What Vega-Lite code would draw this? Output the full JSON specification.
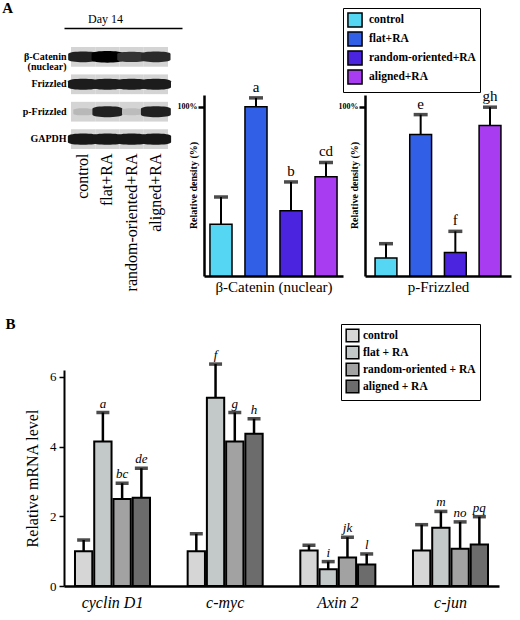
{
  "$schema": "https://vega.github.io/schema/vega-lite/v6.json",
  "background": "white",
  "padding": {"left": 2, "top": 0, "right": 5, "bottom": 5},
  "config": {
    "font": "Liberation Serif",
    "view": {"stroke": null},
    "axis": {"domainColor": "black", "tickColor": "black", "labelColor": "black", "titleColor": "black", "labelFont": "Liberation Serif", "titleFont": "Liberation Serif", "grid": false},
    "legend": {"labelFont": "Liberation Serif", "labelColor": "black"},
    "title": {"font": "Liberation Serif", "color": "black"},
    "text": {"font": "Liberation Serif", "color": "black"}
  },
  "datasets": {
    "blot": [
      {"protein": "β-Catenin (nuclear)", "lane": "control", "intensity": 0.85},
      {"protein": "β-Catenin (nuclear)", "lane": "flat+RA", "intensity": 1.0},
      {"protein": "β-Catenin (nuclear)", "lane": "random-oriented+RA", "intensity": 0.75},
      {"protein": "β-Catenin (nuclear)", "lane": "aligned+RA", "intensity": 0.8},
      {"protein": "Frizzled", "lane": "control", "intensity": 0.88},
      {"protein": "Frizzled", "lane": "flat+RA", "intensity": 0.88},
      {"protein": "Frizzled", "lane": "random-oriented+RA", "intensity": 0.88},
      {"protein": "Frizzled", "lane": "aligned+RA", "intensity": 0.88},
      {"protein": "p-Frizzled", "lane": "control", "intensity": 0.12},
      {"protein": "p-Frizzled", "lane": "flat+RA", "intensity": 0.85},
      {"protein": "p-Frizzled", "lane": "random-oriented+RA", "intensity": 0.1},
      {"protein": "p-Frizzled", "lane": "aligned+RA", "intensity": 0.85},
      {"protein": "GAPDH", "lane": "control", "intensity": 0.9},
      {"protein": "GAPDH", "lane": "flat+RA", "intensity": 0.9},
      {"protein": "GAPDH", "lane": "random-oriented+RA", "intensity": 0.9},
      {"protein": "GAPDH", "lane": "aligned+RA", "intensity": 0.9}
    ],
    "catenin": [
      {"group": "control", "value": 30.6, "err": 46.7, "letter": ""},
      {"group": "flat+RA", "value": 100, "err": 105.3, "letter": "a"},
      {"group": "random-oriented+RA", "value": 38.5, "err": 55.6, "letter": "b"},
      {"group": "aligned+RA", "value": 58.6, "err": 67.1, "letter": "cd"}
    ],
    "pfzd": [
      {"group": "control", "value": 10.7, "err": 19.1, "letter": ""},
      {"group": "flat+RA", "value": 83.7, "err": 95.4, "letter": "e"},
      {"group": "random-oriented+RA", "value": 13.9, "err": 26.4, "letter": "f"},
      {"group": "aligned+RA", "value": 88.9, "err": 99.8, "letter": "gh"}
    ],
    "mrna": [
      {"gene": "cyclin D1", "group": "control", "value": 1.0, "err": 1.32, "letter": ""},
      {"gene": "cyclin D1", "group": "flat + RA", "value": 4.15, "err": 4.98, "letter": "a"},
      {"gene": "cyclin D1", "group": "random-oriented + RA", "value": 2.5, "err": 2.95, "letter": "bc"},
      {"gene": "cyclin D1", "group": "aligned + RA", "value": 2.53, "err": 3.38, "letter": "de"},
      {"gene": "c-myc", "group": "control", "value": 1.0, "err": 1.5, "letter": ""},
      {"gene": "c-myc", "group": "flat + RA", "value": 5.4, "err": 6.37, "letter": "f"},
      {"gene": "c-myc", "group": "random-oriented + RA", "value": 4.15, "err": 4.98, "letter": "g"},
      {"gene": "c-myc", "group": "aligned + RA", "value": 4.37, "err": 4.8, "letter": "h"},
      {"gene": "Axin 2", "group": "control", "value": 1.02, "err": 1.17, "letter": ""},
      {"gene": "Axin 2", "group": "flat + RA", "value": 0.48, "err": 0.7, "letter": "i"},
      {"gene": "Axin 2", "group": "random-oriented + RA", "value": 0.82, "err": 1.4, "letter": "jk"},
      {"gene": "Axin 2", "group": "aligned + RA", "value": 0.62, "err": 0.92, "letter": "l"},
      {"gene": "c-jun", "group": "control", "value": 1.02, "err": 1.76, "letter": ""},
      {"gene": "c-jun", "group": "flat + RA", "value": 1.67, "err": 2.14, "letter": "m"},
      {"gene": "c-jun", "group": "random-oriented + RA", "value": 1.07, "err": 1.84, "letter": "no"},
      {"gene": "c-jun", "group": "aligned + RA", "value": 1.19, "err": 1.99, "letter": "pq"}
    ]
  },
  "concat": [
    {
      "title": {"text": "A", "anchor": "start", "frame": "bounds", "fontSize": 15, "fontWeight": "bold", "dx": -20, "dy": 8, "offset": 0},
      "hconcat": [
        {
          "width": 118,
          "height": 102,
          "data": {"name": "blot"},
          "layer": [
            {
              "mark": {"type": "rect", "fill": "#d4d4d4"},
              "encoding": {
                "x": {"field": "lane", "type": "nominal", "sort": ["control", "flat+RA", "random-oriented+RA", "aligned+RA"],
                      "scale": {"paddingInner": 0, "paddingOuter": 0.433, "align": 0.333},
                      "axis": {"orient": "bottom", "labelAngle": -90, "labelAlign": "right", "labelBaseline": "middle", "labelFontSize": 16, "labelPadding": 4, "domain": false, "ticks": false, "title": null}},
                "y": {"field": "protein", "type": "nominal", "sort": ["β-Catenin (nuclear)", "Frizzled", "p-Frizzled", "GAPDH"],
                      "scale": {"paddingInner": 0.28, "paddingOuter": 0},
                      "axis": {"offset": -5, "domain": false, "ticks": false, "title": null, "labelFontSize": 10, "labelFontWeight": "bold", "labelPadding": 3, "labelLineHeight": 10,
                               "labelExpr": "datum.value == 'β-Catenin (nuclear)' ? ['β-Catenin', '(nuclear)'] : datum.label"}}
              }
            },
            {
              "mark": {"type": "point", "filled": true, "opacity": 1, "shape": "M-1,-0.2 C-1,-0.42 1,-0.42 1,-0.2 L1,0.2 C1,0.42 -1,0.42 -1,0.2 Z"},
              "encoding": {
                "x": {"field": "lane", "type": "nominal", "sort": ["control", "flat+RA", "random-oriented+RA", "aligned+RA"],
                      "axis": {"orient": "top", "domain": true, "domainWidth": 1.5, "labels": false, "ticks": false, "title": "Day 14", "titleFontSize": 12, "titleFontWeight": "normal", "titlePadding": 3, "titleX": 41, "offset": 19}},
                "y": {"field": "protein", "type": "nominal", "sort": ["β-Catenin (nuclear)", "Frizzled", "p-Frizzled", "GAPDH"]},
                "color": {"field": "intensity", "type": "quantitative", "scale": {"domain": [0, 1], "range": ["#d4d4d4", "#000000"]}, "legend": null},
                "size": {"field": "intensity", "type": "quantitative", "scale": {"domain": [0, 1], "range": [300, 1000]}, "legend": null}
              }
            }
          ],
          "resolve": {"axis": {"x": "independent"}}
        },
        {
          "width": 139,
          "height": 229,
          "data": {"name": "catenin"},
          "encoding": {
            "x": {"field": "group", "type": "nominal", "sort": ["control", "flat+RA", "random-oriented+RA", "aligned+RA"],
                  "scale": {"paddingInner": 0.37, "paddingOuter": 0.17},
                  "axis": {"labels": false, "ticks": false, "domainWidth": 2.5, "title": "β-Catenin (nuclear)", "titleFontSize": 15, "titleFontWeight": "normal", "titlePadding": 3}}
          },
          "layer": [
            {
              "mark": {"type": "bar", "stroke": "black", "strokeWidth": 1.5},
              "encoding": {
                "y": {"field": "value", "type": "quantitative", "scale": {"domain": [0, 107], "range": [229, 48], "nice": false},
                      "axis": {"values": [100], "labelExpr": "'100%'", "labelFontSize": 8, "labelFontWeight": "bold", "tickSize": 6, "tickWidth": 2.5, "domainWidth": 2.5, "labelPadding": 1,
                               "title": "Relative density (%)", "titleFontSize": 10, "titleFontWeight": "bold", "titleX": -6, "titleY": 138, "titleBaseline": "bottom", "titleAngle": 270, "titleAlign": "center"}},
                "fill": {"field": "group", "type": "nominal", "scale": {"domain": ["control", "flat+RA", "random-oriented+RA", "aligned+RA"], "range": ["#55d6f2", "#3160e6", "#4b24e0", "#a83cf0"]}, "legend": null}
              }
            },
            {
              "mark": {"type": "rule", "strokeWidth": 2, "color": "black"},
              "encoding": {"y": {"field": "value", "type": "quantitative"}, "y2": {"field": "err"}}
            },
            {
              "mark": {"type": "tick", "thickness": 3.5, "size": 14, "color": "black"},
              "encoding": {"y": {"field": "err", "type": "quantitative"}}
            },
            {
              "mark": {"type": "text", "baseline": "bottom", "dy": -3, "fontSize": 15},
              "encoding": {"y": {"field": "err", "type": "quantitative"}, "text": {"field": "letter"}}
            }
          ]
        },
        {
          "width": 146,
          "height": 229,
          "data": {"name": "pfzd"},
          "encoding": {
            "x": {"field": "group", "type": "nominal", "sort": ["control", "flat+RA", "random-oriented+RA", "aligned+RA"],
                  "scale": {"paddingInner": 0.37, "paddingOuter": 0.29},
                  "axis": {"labels": false, "ticks": false, "domainWidth": 2.5, "title": "p-Frizzled", "titleFontSize": 15, "titleFontWeight": "normal", "titlePadding": 3}}
          },
          "layer": [
            {
              "mark": {"type": "bar", "stroke": "black", "strokeWidth": 1.5},
              "encoding": {
                "y": {"field": "value", "type": "quantitative", "scale": {"domain": [0, 107], "range": [229, 48], "nice": false},
                      "axis": {"values": [100], "labelExpr": "'100%'", "labelFontSize": 8, "labelFontWeight": "bold", "tickSize": 6, "tickWidth": 2.5, "domainWidth": 2.5, "labelPadding": 1,
                               "title": "Relative density (%)", "titleFontSize": 10, "titleFontWeight": "bold", "titleX": -6, "titleY": 138, "titleBaseline": "bottom", "titleAngle": 270, "titleAlign": "center"}},
                "fill": {"field": "group", "type": "nominal", "scale": {"domain": ["control", "flat+RA", "random-oriented+RA", "aligned+RA"], "range": ["#55d6f2", "#3160e6", "#4b24e0", "#a83cf0"]},
                         "legend": {"orient": "none", "legendX": -22, "legendY": -39, "title": null, "strokeColor": "black", "padding": 4, "symbolType": "square", "symbolSize": 200, "symbolStrokeColor": "black", "symbolStrokeWidth": 1.5, "labelFontSize": 11.5, "labelFontWeight": "bold", "rowPadding": -4, "labelOffset": 6}}
              }
            },
            {
              "mark": {"type": "rule", "strokeWidth": 2, "color": "black"},
              "encoding": {"y": {"field": "value", "type": "quantitative"}, "y2": {"field": "err"}}
            },
            {
              "mark": {"type": "tick", "thickness": 3.5, "size": 14, "color": "black"},
              "encoding": {"y": {"field": "err", "type": "quantitative"}}
            },
            {
              "mark": {"type": "text", "baseline": "bottom", "dy": -3, "fontSize": 15},
              "encoding": {"y": {"field": "err", "type": "quantitative"}, "text": {"field": "letter"}}
            }
          ]
        }
      ],
      "bounds": "flush",
      "spacing": 22,
      "resolve": {"scale": {"color": "independent", "size": "independent", "fill": "independent"}}
    },
    {
      "title": {"text": "B", "anchor": "start", "frame": "bounds", "fontSize": 15, "fontWeight": "bold", "dx": -19, "dy": 8, "offset": 0},
      "width": 435,
      "height": 216,
      "data": {"name": "mrna"},
      "encoding": {
        "x": {"field": "gene", "type": "nominal", "sort": ["cyclin D1", "c-myc", "Axin 2", "c-jun"],
              "scale": {"paddingInner": 0.317, "paddingOuter": 0.089},
              "axis": {"labelFontStyle": "italic", "labelFontSize": 16, "labelAngle": 0, "ticks": false, "domainWidth": 2.5, "title": null, "labelPadding": 8}},
        "xOffset": {"field": "group", "type": "nominal", "sort": ["control", "flat + RA", "random-oriented + RA", "aligned + RA"],
                    "scale": {"paddingInner": 0.1, "paddingOuter": 0.05}}
      },
      "layer": [
        {
          "mark": {"type": "bar", "stroke": "black", "strokeWidth": 2},
          "encoding": {
            "y": {"field": "value", "type": "quantitative", "scale": {"domain": [0, 6.2], "nice": false},
                  "axis": {"values": [0, 1, 2, 3, 4, 5, 6], "labelFontSize": 13, "tickSize": 5, "tickWidth": 1.5, "domainWidth": 2, "labelPadding": 3,
                           "title": "Relative mRNA level", "titleFontSize": 16, "titleFontWeight": "normal", "titlePadding": 9}},
            "fill": {"field": "group", "type": "nominal", "scale": {"domain": ["control", "flat + RA", "random-oriented + RA", "aligned + RA"], "range": ["#d6d6d6", "#c3c8c8", "#a2a2a2", "#6c6c6c"]},
                     "legend": {"orient": "none", "legendX": 277, "legendY": -46, "title": null, "strokeColor": "black", "padding": 4, "symbolType": "square", "symbolSize": 160, "symbolStrokeColor": "black", "symbolStrokeWidth": 1.5, "labelFontSize": 11.5, "labelFontWeight": "bold", "rowPadding": -4, "labelOffset": 3}}
          }
        },
        {
          "mark": {"type": "rule", "strokeWidth": 2.5, "color": "black"},
          "encoding": {"y": {"field": "value", "type": "quantitative"}, "y2": {"field": "err"}}
        },
        {
          "mark": {"type": "tick", "thickness": 3.5, "size": 13, "color": "black"},
          "encoding": {"y": {"field": "err", "type": "quantitative"}}
        },
        {
          "mark": {"type": "text", "baseline": "bottom", "dy": -2, "fontSize": 13, "fontStyle": "italic"},
          "encoding": {"y": {"field": "err", "type": "quantitative"}, "text": {"field": "letter"}}
        }
      ]
    }
  ],
  "columns": 1,
  "spacing": 22,
  "resolve": {"scale": {"color": "independent", "size": "independent", "fill": "independent"}}
}
